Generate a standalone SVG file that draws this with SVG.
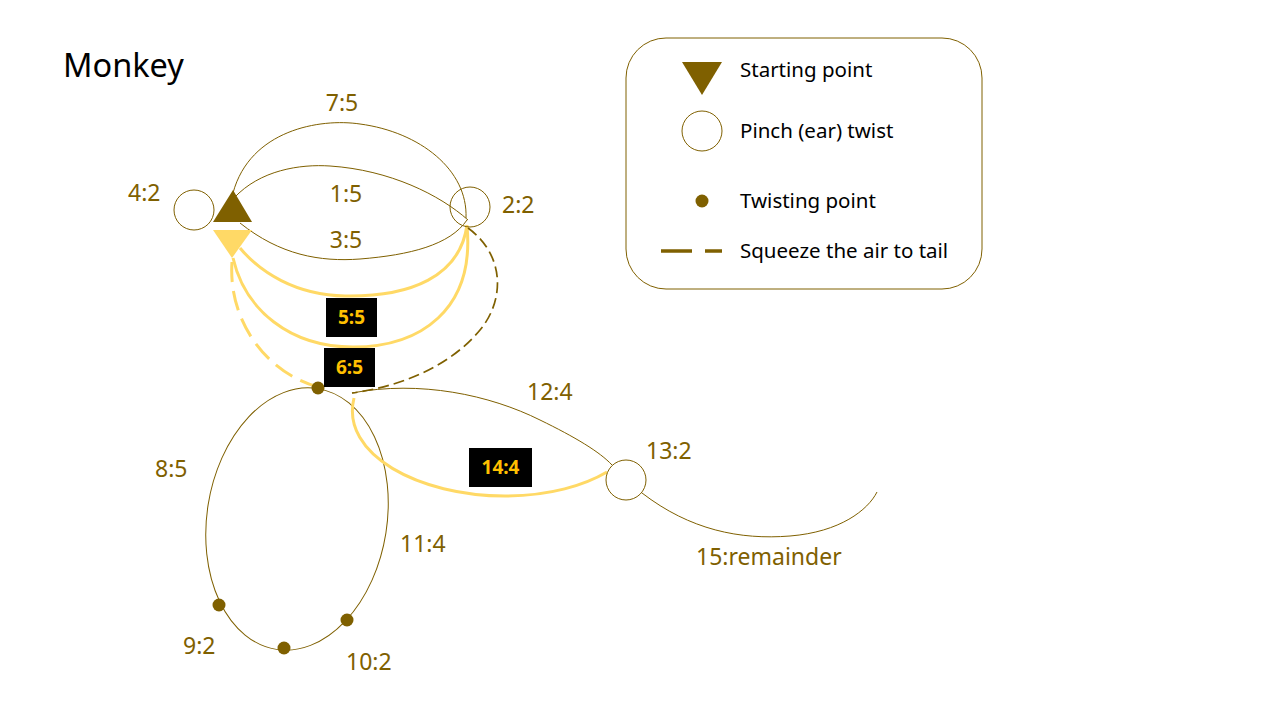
<svg xmlns="http://www.w3.org/2000/svg" width="1280" height="720" viewBox="0 0 1280 720">
<style>
.t{font-family:"Noto Sans","Open Sans","Liberation Sans",sans-serif;fill:#7F6000;font-size:23px}
.lg{font-family:"Noto Sans","Open Sans","Liberation Sans",sans-serif;fill:#000;font-size:20.5px}
.bx{font-family:"Noto Sans","Open Sans","Liberation Sans",sans-serif;fill:#FFC000;font-size:19px;font-weight:bold;text-anchor:middle}
.thin{fill:none;stroke:#7F6000;stroke-width:1}
.yel{fill:none;stroke:#FFD966;stroke-width:3}
.ring{fill:#fff;stroke:#7F6000;stroke-width:1}
.dot{fill:#7F6000}
</style>
<rect width="1280" height="720" fill="#fff"/>
<text x="63" y="77" font-family="'Noto Sans','Open Sans',sans-serif" font-size="32.5" fill="#000">Monkey</text>

<g id="legend">
<rect x="626" y="38" width="356" height="251" rx="40" ry="40" class="ring"/>
<polygon points="682,62 722,62 702,95" class="dot"/>
<text x="740" y="77" class="lg">Starting point</text>
<circle cx="702" cy="131" r="20" class="ring"/>
<text x="740" y="138" class="lg">Pinch (ear) twist</text>
<circle cx="702" cy="201" r="6.5" class="dot"/>
<text x="740" y="208" class="lg">Twisting point</text>
<line x1="661" y1="251" x2="722" y2="251" stroke="#7F6000" stroke-width="3.5" stroke-dasharray="31,13"/>
<text x="740" y="258" class="lg">Squeeze the air to tail</text>
</g>

<g id="connectors">
<path id="e7" d="M233,193 C250,130 320,118 360,124 C420,132 468,170 466,218" class="thin"/>
<path id="e1" d="M234,198 C260,170 300,164 330,166 C390,170 440,195 468,220" class="thin"/>
<path id="e3" d="M240,223 C280,255 320,262 360,259 C410,255 450,245 467,220" class="thin"/>
<path id="e4" d="M467,225 C460,277 410,297 345,296 C295,295 260,272 240,248" class="yel"/>
<path id="e5" d="M467,226 C475,310 420,347 353,347 C290,347 245,310 233,258" class="yel"/>
<path id="e6a" d="M232,262 C228,320 265,372 318,387" class="yel" stroke-dasharray="20,9"/>
<path id="e6b" d="M468,228 C505,255 505,300 480,330 C445,372 390,388 352,393" fill="none" stroke="#7F6000" stroke-width="1.7" stroke-dasharray="11,5"/>
<ellipse id="loop" cx="297" cy="519" rx="90" ry="132" transform="rotate(9 297 519)" class="thin"/>
<path id="e12" d="M352,393 C420,380 490,395 540,420 C575,437 600,452 612,465" class="thin"/>
<path id="e14" d="M354,398 C340,455 420,496 505,496 C550,496 585,485 607,472" class="yel"/>
<path id="e15" d="M642,493 C690,530 740,540 790,536 C840,532 868,510 877,492" class="thin"/>
</g>

<g id="node-4-2"><circle cx="194" cy="210" r="20" class="ring"/><text x="128" y="201" class="t">4:2</text></g>
<g id="node-start"><polygon points="233,190 213,222 252,222" class="dot"/></g>
<g id="node-end"><polygon points="213,230 252,230 232,258" fill="#FFD966"/></g>
<g id="node-2-2"><circle cx="470" cy="207" r="20" fill="none" stroke="#7F6000" stroke-width="1"/><text x="502" y="213" class="t">2:2</text></g>
<g id="node-6-5"><circle cx="318" cy="388" r="6.5" class="dot"/></g>
<g id="node-9-2"><circle cx="219" cy="605" r="6.5" class="dot"/><text x="183" y="654" class="t">9:2</text></g>
<g id="node-mid"><circle cx="284" cy="648" r="6.5" class="dot"/></g>
<g id="node-10-2"><circle cx="347" cy="620" r="6.5" class="dot"/><text x="346" y="670" class="t">10:2</text></g>
<g id="node-13-2"><circle cx="626" cy="480" r="20" class="ring"/><text x="646" y="459" class="t">13:2</text></g>

<g id="labels">
<text x="342" y="111" class="t" text-anchor="middle">7:5</text>
<text x="346" y="202" class="t" text-anchor="middle">1:5</text>
<text x="346" y="248" class="t" text-anchor="middle">3:5</text>
<text x="527" y="400" class="t">12:4</text>
<text x="155" y="477" class="t">8:5</text>
<text x="400" y="552" class="t">11:4</text>
<text x="696" y="565" class="t">15:remainder</text>
<rect x="326" y="298" width="51" height="39" fill="#000"/><text x="351.5" y="324" class="bx">5:5</text>
<rect x="324" y="348" width="51" height="39" fill="#000"/><text x="349.5" y="374" class="bx">6:5</text>
<rect x="469" y="448" width="63" height="39" fill="#000"/><text x="500.5" y="474" class="bx">14:4</text>
</g>
</svg>
